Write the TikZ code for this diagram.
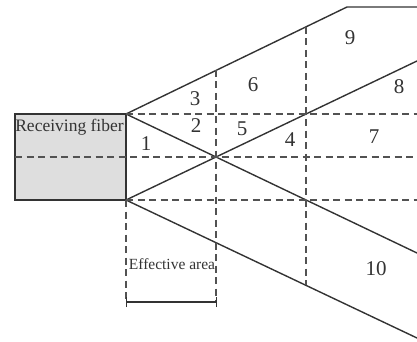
\documentclass[tikz,border=0pt]{standalone}
\usepackage{fontspec}
\setmainfont{Liberation Serif}
\definecolor{ink}{HTML}{333333}
\tikzset{
  solidline/.style={draw=ink,line width=1.4pt},
  dashline/.style={draw=ink!85,line width=1.1pt,dash pattern=on 7pt off 4.5pt},
  num/.style={text=ink,inner sep=0pt,font=\fontsize{21}{21}\selectfont},
  lab/.style={text=ink,inner sep=0pt},
}
\begin{document}
\begin{tikzpicture}[x=1pt,y=-1pt]
\useasboundingbox (0,0) rectangle (417,342);
\coordinate (fl) at (15,114);
\coordinate (ft) at (126,114);
\coordinate (fm) at (15,157);
\coordinate (fb) at (126,200);
\coordinate (flb) at (15,200);
\coordinate (c) at (216,157);
\coordinate (kink) at (347,7);
\coordinate (topend) at (417,7);
\coordinate (t1) at (216,70);
\coordinate (t2) at (306,27);
\coordinate (b2) at (306,285);
\coordinate (e1) at (417,61);
\coordinate (e2) at (417,253);
\coordinate (e3) at (417,338);
\coordinate (rm) at (417,157);
\coordinate (r1) at (417,114);
\coordinate (r2) at (417,200);
\coordinate (bl) at (126,302);
\coordinate (br) at (216,302);
\fill[fill=black!13] (fl) rectangle (fb);
\draw[solidline] (fl) -- (ft) -- (fb) -- (flb) -- cycle;
\draw[solidline] (ft) -- (kink) -- (topend);
\draw[solidline] (fb) -- (e1);
\draw[solidline] (ft) -- (e2);
\draw[solidline] (fb) -- (e3);
\draw[dashline] (fm) -- (rm);
\draw[dashline] (ft) -- (r1);
\draw[dashline] (fb) -- (r2);
\draw[dashline] (fb) -- (bl);
\draw[dashline] (t1) -- (br);
\draw[dashline] (t2) -- (b2);
\draw[solidline] (bl) -- (br);
\draw[solidline,line width=1pt] ([yshift=-5pt]bl) -- ([yshift=5pt]bl);
\draw[solidline,line width=1pt] ([yshift=-5pt]br) -- ([yshift=5pt]br);
\node[lab,font=\fontsize{17.5}{18}\selectfont] (rf) at (69.5,127) {Receiving fiber};
\node[lab,font=\fontsize{15.5}{16}\selectfont] (ea) at (172,264) {Effective area};
\node[num] (n1) at (146,144) {1};
\node[num] (n2t) at (196,126) {2};
\node[num] (n3) at (195,99) {3};
\node[num] (n4) at (290,140) {4};
\node[num] (n5) at (242,129) {5};
\node[num] (n6) at (253,85) {6};
\node[num] (n7) at (374,137) {7};
\node[num] (n8) at (399,87) {8};
\node[num] (n9) at (350,38) {9};
\node[num] (n10) at (376,269) {10};
\end{tikzpicture}
\end{document}
